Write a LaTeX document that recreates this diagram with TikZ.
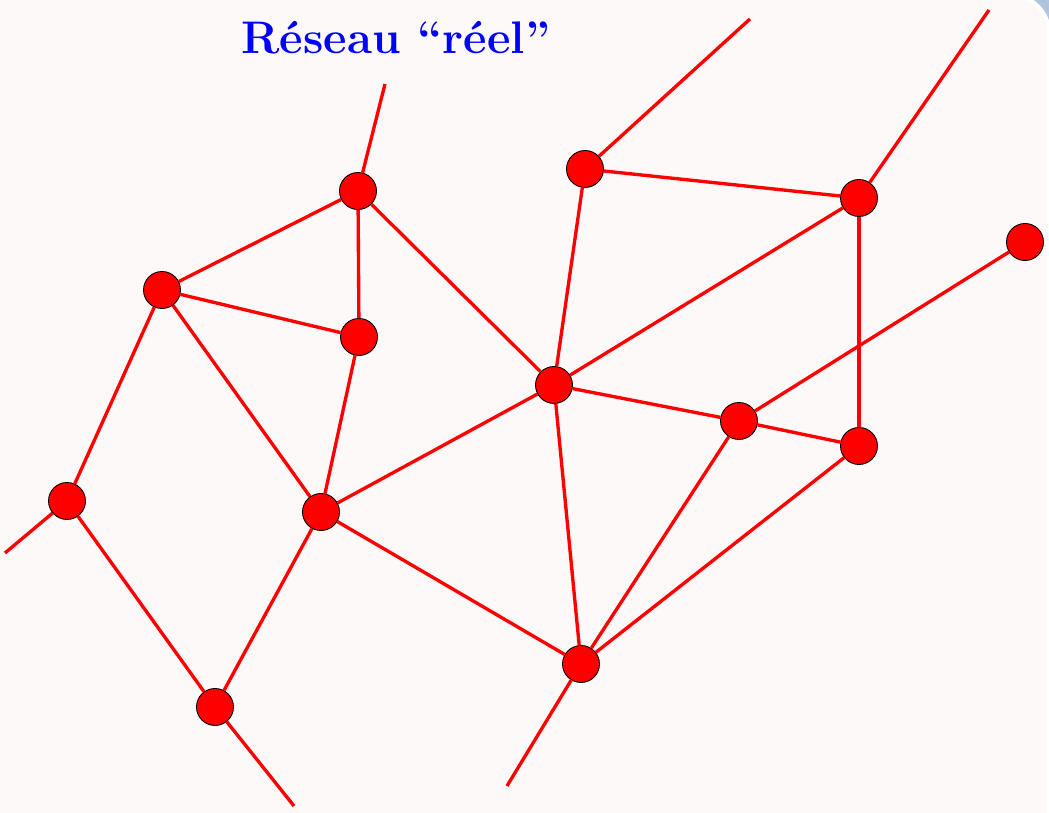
\documentclass[tikz,border=0pt]{standalone}
\definecolor{fondrose}{RGB}{253,249,248}
\definecolor{coinbleu}{RGB}{176,196,222}
\tikzset{
    station/.style={circle, fill=red, draw=black, line width=0.5pt, minimum size=0.74cm, inner sep=0pt},
    liaison/.style={red, line width=1.9pt}
}
\begin{document}
\begin{tikzpicture}[x=0.02cm, y=-0.02cm]
    % Background (slide corner)
    \useasboundingbox (0,0) rectangle (1049,813);
    \clip (0,0) rectangle (1049,813);
    \fill[coinbleu] (0,0) rectangle (1049,813);
    \fill[white, rounded corners=0.8cm] (-40,-7) rectangle (1051,850);
    \fill[fondrose, rounded corners=0.72cm] (-40,-3) rectangle (1047,850);

    % Title
    \node[text=blue, font=\fontsize{26}{30}\selectfont\bfseries] (titre) at (396,38) {Réseau ``réel''};

    % Stations
    \node[station] (A) at (358,191) {};
    \node[station] (B) at (162,290) {};
    \node[station] (C) at (359,337) {};
    \node[station] (D) at (67,501) {};
    \node[station] (E) at (321,512) {};
    \node[station] (F) at (215,707) {};
    \node[station] (G) at (585,169) {};
    \node[station] (H) at (859,198) {};
    \node[station] (I) at (1025,242) {};
    \node[station] (J) at (554,385) {};
    \node[station] (K) at (739,421) {};
    \node[station] (L) at (859,446) {};
    \node[station] (M) at (581,664) {};

    % Free ends
    \coordinate (a) at (385,84);
    \coordinate (g) at (750,19);
    \coordinate (h) at (989,10);
    \coordinate (d) at (5,553);
    \coordinate (f) at (294,806);
    \coordinate (m) at (507,786);

    % Links
    \draw[liaison] (A) -- (a);
    \draw[liaison] (G) -- (g);
    \draw[liaison] (H) -- (h);
    \draw[liaison] (D) -- (d);
    \draw[liaison] (F) -- (f);
    \draw[liaison] (M) -- (m);

    \draw[liaison] (A) -- (B);
    \draw[liaison] (A) -- (C);
    \draw[liaison] (A) -- (J);
    \draw[liaison] (B) -- (C);
    \draw[liaison] (B) -- (D);
    \draw[liaison] (B) -- (E);
    \draw[liaison] (C) -- (E);
    \draw[liaison] (D) -- (F);
    \draw[liaison] (E) -- (F);
    \draw[liaison] (E) -- (J);
    \draw[liaison] (E) -- (M);
    \draw[liaison] (G) -- (H);
    \draw[liaison] (G) -- (J);
    \draw[liaison] (H) -- (J);
    \draw[liaison] (H) -- (L);
    \draw[liaison] (I) -- (K);
    \draw[liaison] (J) -- (K);
    \draw[liaison] (J) -- (M);
    \draw[liaison] (K) -- (L);
    \draw[liaison] (K) -- (M);
    \draw[liaison] (L) -- (M);
\end{tikzpicture}
\end{document}
